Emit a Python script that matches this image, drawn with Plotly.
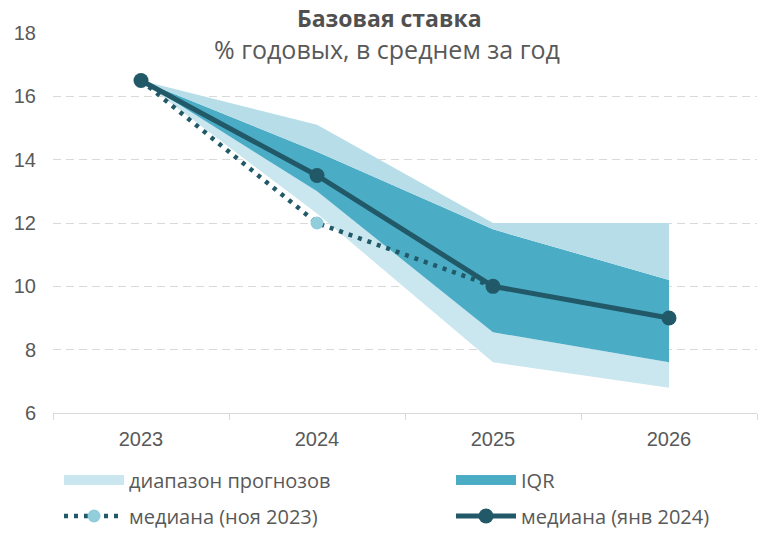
import plotly.graph_objects as go

# ---- data ----
years = ["2023", "2024", "2025", "2026"]
range_low = [16.5, 12.3, 7.6, 6.8]
range_high = [16.5, 15.1, 12.0, 12.0]
iqr_low = [16.5, 13.0, 8.55, 7.6]
iqr_high = [16.5, 14.25, 11.8, 10.2]
median_jan2024 = [16.5, 13.5, 10.0, 9.0]
years_nov = ["2023", "2024", "2025"]
median_nov2023 = [16.5, 12.0, 10.0]

title_text = "Базовая ставка"
subtitle_text = "% годовых, в среднем за год"
legend_names = ["диапазон прогнозов", "IQR", "медиана (ноя 2023)", "медиана (янв 2024)"]

# ---- styling ----
W, H = 781, 536
# plot area in window pixels: x 53..757, y 33..413
ML, MT = 53, 33
MR = W - 757
MB = H - 413
PW, PH = W - ML - MR, H - MT - MB

C_LIGHT_LOW = "#CAE6EE"
C_LIGHT_UP = "#B7DEE8"
C_IQR = "#4BACC6"
C_DARK = "#215968"
C_NOV = "#92CDDC"
C_TEXT = "#595959"
C_GRID = "#D9D9D9"

def px_x(px):
    return (px - ML) / PW

def px_y(py):
    return (H - MB - py) / PH

fig = go.Figure()

# bands (stacked with tonexty)
fig.add_trace(go.Scatter(x=years, y=range_low, mode="lines", line=dict(width=0),
                         showlegend=False, hoverinfo="skip"))
fig.add_trace(go.Scatter(x=years, y=iqr_low, mode="lines", line=dict(width=0),
                         fill="tonexty", fillcolor=C_LIGHT_LOW, showlegend=False, hoverinfo="skip"))
fig.add_trace(go.Scatter(x=years, y=iqr_high, mode="lines", line=dict(width=0),
                         fill="tonexty", fillcolor=C_IQR, showlegend=False, hoverinfo="skip"))
fig.add_trace(go.Scatter(x=years, y=range_high, mode="lines", line=dict(width=0),
                         fill="tonexty", fillcolor=C_LIGHT_UP, showlegend=False, hoverinfo="skip"))

# medians
fig.add_trace(go.Scatter(x=years_nov, y=median_nov2023, mode="lines+markers",
                         name=legend_names[2], legend="legend3",
                         line=dict(color=C_DARK, width=4.5, dash="4px,6px"),
                         marker=dict(color=C_NOV, size=13)))
fig.add_trace(go.Scatter(x=years, y=median_jan2024, mode="lines+markers",
                         name=legend_names[3], legend="legend4",
                         line=dict(color=C_DARK, width=5),
                         marker=dict(color=C_DARK, size=15)))

# legend keys for the bands
fig.add_trace(go.Scatter(x=[None], y=[None], mode="lines", name=legend_names[0],
                         legend="legend", line=dict(color=C_LIGHT_LOW, width=11)))
fig.add_trace(go.Scatter(x=[None], y=[None], mode="lines", name=legend_names[1],
                         legend="legend2", line=dict(color=C_IQR, width=11)))

leg_font = dict(family="Open Sans, sans-serif", size=20, color=C_TEXT)
def leg(xpx, ypx):
    return dict(x=px_x(xpx), y=px_y(ypx), xanchor="left", yanchor="middle",
                orientation="v", font=leg_font, itemwidth=60,
                bgcolor="rgba(0,0,0,0)", borderwidth=0)

fig.update_layout(
    width=W, height=H,
    margin=dict(l=ML, r=MR, t=MT, b=MB, autoexpand=False),
    paper_bgcolor="white", plot_bgcolor="white",
    hovermode=False,
    legend=leg(59, 480), legend2=leg(451, 480),
    legend3=leg(59, 516), legend4=leg(451, 516),
    xaxis=dict(type="category", range=[-0.5, 3.5], tickson="boundaries", ticks="outside", ticklen=6,
               tickcolor=C_GRID, showline=True, linecolor=C_GRID, linewidth=1.3,
               showgrid=False, zeroline=False, ticklabelstandoff=8,
               tickfont=dict(family="Liberation Sans, Arial, sans-serif", size=20, color=C_TEXT)),
    yaxis=dict(range=[6, 18], dtick=2, tick0=6, showgrid=True, gridcolor=C_GRID,
               griddash="8px,5px", gridwidth=1, zeroline=False, showline=False,
               ticks="", ticklabelstandoff=16,
               tickfont=dict(family="Liberation Sans, Arial, sans-serif", size=20, color=C_TEXT)),
    annotations=[
        dict(text="<b>" + title_text + "</b>", x=px_x(389), y=px_y(18), xref="paper", yref="paper",
             xanchor="center", yanchor="middle", showarrow=False,
             font=dict(family="Open Sans, sans-serif", size=23, color="#505050")),
        dict(text=subtitle_text, x=px_x(387), y=px_y(49), xref="paper", yref="paper",
             xanchor="center", yanchor="middle", showarrow=False,
             font=dict(family="Open Sans, sans-serif", size=25, color=C_TEXT)),
    ],
)

# remove the default 8px page margin so the figure fills the window exactly
fig.write_html("out.html",
               config={"displayModeBar": False, "staticPlot": True},
               post_script="document.body.style.margin='0';document.body.style.padding='0';")
